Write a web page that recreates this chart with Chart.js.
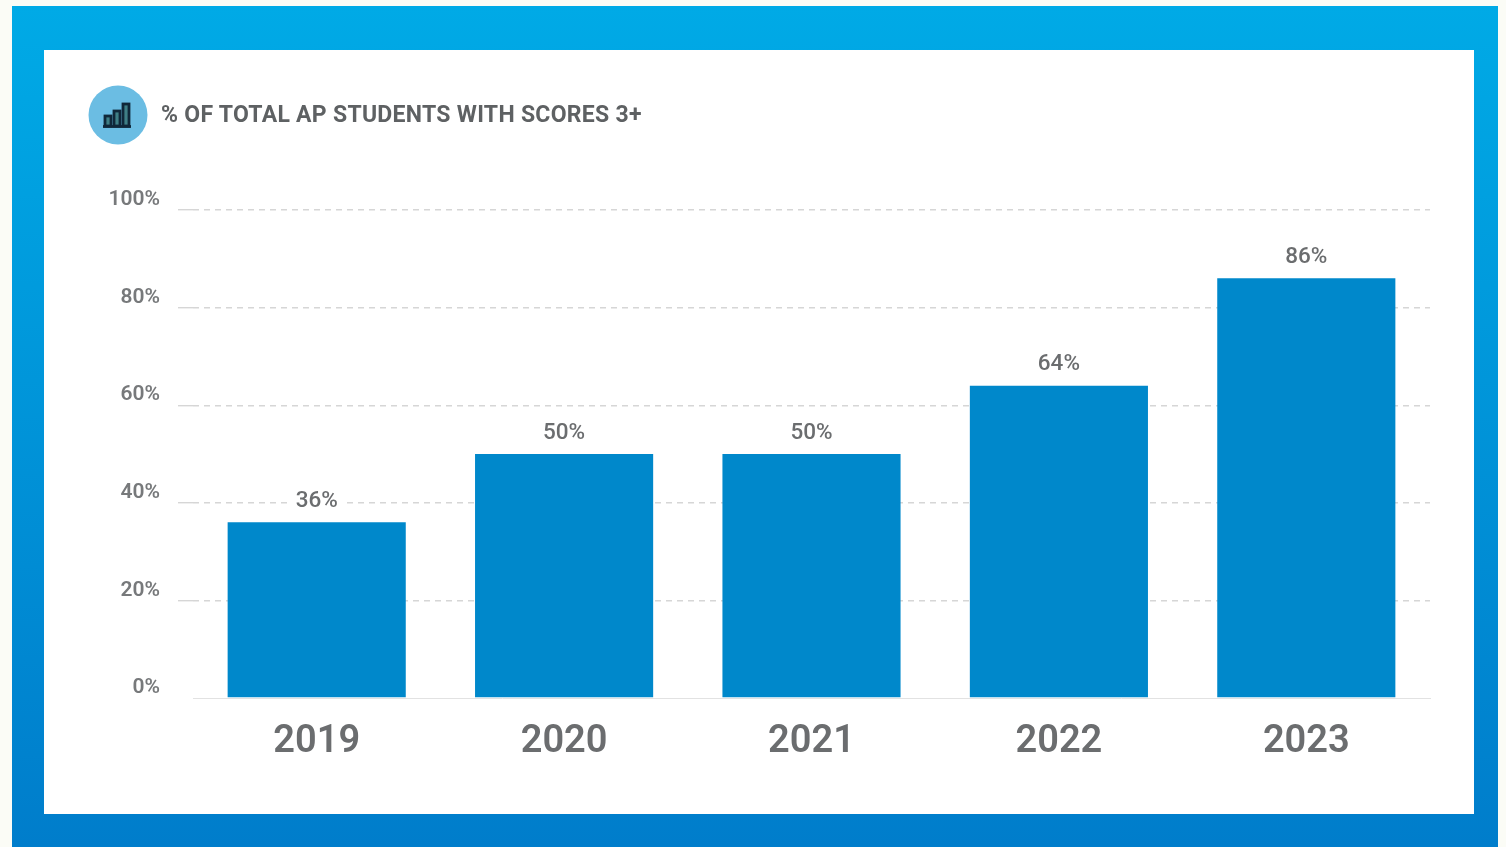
<!DOCTYPE html>
<html lang="en">
<head>
<meta charset="utf-8">
<title>AP students with scores 3+</title>
<script src="https://cdn.jsdelivr.net/npm/chart.js@4"></script>
<style>
  html, body { margin: 0; padding: 0; width: 1506px; height: 847px; overflow: hidden; background: #fbfcf6; }
  #frame { position: absolute; left: 12px; top: 6px; width: 1486px; height: 841px;
           background: linear-gradient(180deg, #00aae6 0%, #007dcb 100%); }
  #card { position: absolute; left: 44px; top: 50px; width: 1430px; height: 764px; background: #fff; }
  #chart { position: absolute; left: 0; top: 0; }
  #icon { position: absolute; left: 88px; top: 85px; }
  #heading { position: absolute; left: 161px; top: 100px; font: 700 23px/30px Roboto, sans-serif;
             letter-spacing: 0.28px; color: #5e6163; white-space: nowrap; }
</style>
</head>
<body>
<div id="frame"></div>
<div id="card"><canvas id="chart" width="1430" height="764"></canvas></div>
<svg id="icon" width="60" height="60" viewBox="0 0 60 60">
  <circle cx="30" cy="30" r="29.5" fill="#6bbde3"/>
  <g fill="#3f7f86" stroke="#10283a" stroke-width="2.8">
    <rect x="17" y="31" width="6" height="10"/>
    <rect x="26" y="26" width="6" height="15"/>
    <rect x="35" y="19" width="6" height="22"/>
  </g>
  <path d="M15 41.5H43" stroke="#10283a" stroke-width="2.8"/>
</svg>
<div id="heading">% OF TOTAL AP STUDENTS WITH SCORES 3+</div>
<script>
const years = ['2019', '2020', '2021', '2022', '2023'];
const shares = [36, 50, 50, 64, 86];
const shareTicks = [0, 20, 40, 60, 80, 100];

// Value captions above each bar, on a white patch that interrupts the grid line.
const barCaptions = {
  id: 'barCaptions',
  afterDatasetsDraw(chart) {
    const { ctx } = chart;
    ctx.save();
    ctx.font = '500 22.5px Roboto, sans-serif';
    ctx.textAlign = 'center';
    ctx.textBaseline = 'middle';
    chart.getDatasetMeta(0).data.forEach((bar, i) => {
      const text = shares[i] + '%';
      const w = ctx.measureText(text).width;
      const y = bar.y - 21;
      ctx.fillStyle = '#ffffff';
      ctx.fillRect(bar.x - w / 2 - 8, y - 12, w + 16, 24);
      ctx.fillStyle = '#6b6d6f';
      ctx.fillText(text, bar.x, y);
    });
    ctx.restore();
  }
};

// The zero line is drawn by the x axis border, so the y grid skips it.
const isZeroTick = ctx => Boolean(ctx.tick) && ctx.tick.value === 0;

new Chart(document.getElementById('chart'), {
  type: 'bar',
  data: {
    labels: years,
    datasets: [{
      data: shares,
      backgroundColor: '#0088cb',
      barPercentage: 0.72,
      categoryPercentage: 1
    }]
  },
  plugins: [barCaptions],
  options: {
    responsive: false,
    animation: false,
    layout: { padding: { top: 160, right: 44, left: 0, bottom: 0 } },
    plugins: { legend: { display: false }, tooltip: { enabled: false } },
    scales: {
      x: {
        afterFit(scale) { scale.height = 116; },
        grid: { display: false },
        border: { display: true, color: '#e2e2e2', width: 1 },
        ticks: {
          padding: 14,
          color: '#6b6d6f',
          font: { family: 'Roboto, sans-serif', size: 38, weight: '600' }
        }
      },
      y: {
        min: 0,
        max: 100,
        afterFit(scale) { scale.width = 149; },
        afterBuildTicks(scale) { scale.ticks = shareTicks.map(value => ({ value })); },
        border: { display: false, dash: [6, 5] },
        grid: {
          color: ctx => (isZeroTick(ctx) ? 'rgba(0,0,0,0)' : '#d6d6d6'),
          lineWidth: 1.4,
          tickLength: 15,
          tickColor: ctx => (isZeroTick(ctx) ? 'rgba(0,0,0,0)' : '#d6d6d6')
        },
        ticks: {
          padding: 18,
          labelOffset: -10,
          color: '#77797b',
          font: { family: 'Roboto, sans-serif', size: 21, weight: '600' },
          callback: value => value + '%'
        }
      }
    }
  }
});
</script>
</body>
</html>
